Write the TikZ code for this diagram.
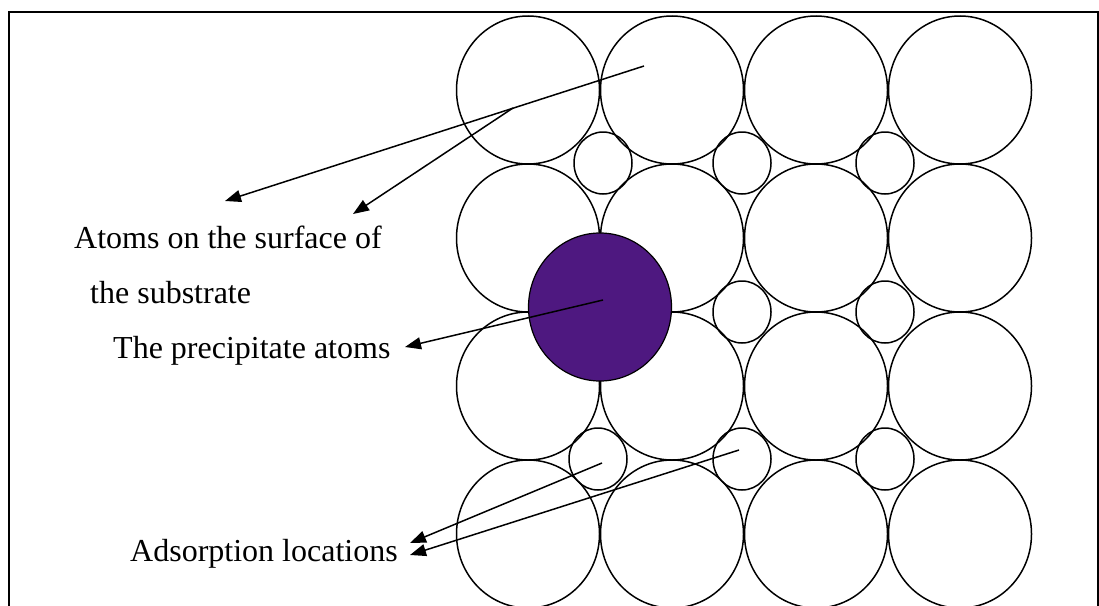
\documentclass[tikz,border=0pt]{standalone}
\usepackage{fontspec}
\setmainfont{Liberation Serif}
\usetikzlibrary{arrows.meta,shapes.geometric}
\definecolor{precip}{RGB}{78,24,128}
\begin{document}
\begin{tikzpicture}[x=1pt,y=-1pt,
  bigatom/.style={ellipse,draw,line width=1.5pt,minimum width=143pt,minimum height=148pt,inner sep=0pt},
  smallatom/.style={ellipse,draw,line width=1.5pt,minimum width=58pt,minimum height=62pt,inner sep=0pt},
  precipatom/.style={ellipse,draw,fill=precip,line width=1.2pt,minimum width=143pt,minimum height=148pt,inner sep=0pt},
  txt/.style={anchor=base west,font=\fontsize{32}{38}\selectfont,inner sep=0pt},
  pointer/.style={line width=1.5pt,-{Triangle[length=16pt,width=12pt]}},
  frameline/.style={line width=1.8pt}]
\useasboundingbox (0,0) rectangle (1099,605);
\draw[frameline] (9,606) -- (9,12) -- (1098,12) -- (1098,606);
% big atoms
\foreach \r/\y in {1/90,2/238,3/386,4/534}{
  \foreach \c/\x in {1/528,2/672,3/816,4/960}{
    \node[bigatom] (b-\r-\c) at (\x,\y) {};
  }
}
% small atoms (adsorption sites)
\node[smallatom] (s-1-1) at (603,163) {};
\node[smallatom] (s-1-2) at (742,163) {};
\node[smallatom] (s-1-3) at (885,163) {};
\node[smallatom] (s-2-2) at (742,312) {};
\node[smallatom] (s-2-3) at (885,312) {};
\node[smallatom] (s-3-1) at (598,459) {};
\node[smallatom] (s-3-2) at (742,459) {};
\node[smallatom] (s-3-3) at (885,459) {};
% precipitate atom
\node[precipatom] (p) at (600,307) {};
% labels
\node[txt] (l1) at (74,248) {Atoms on the surface of};
\node[txt] (l2) at (90,303) {the substrate};
\node[txt] (l3) at (113,358) {The precipitate atoms};
\node[txt] (l4) at (130,561) {Adsorption locations};
% connector end points
\coordinate (s1) at (644,66);
\coordinate (t1) at (225,201);
\coordinate (s2) at (513,108);
\coordinate (t2) at (353,214);
\coordinate (ps) at (603,300);
\coordinate (pt) at (405,347);
\coordinate (as1) at (602,463);
\coordinate (at1) at (410,543);
\coordinate (as2) at (739,450);
\coordinate (at2) at (410,555);
\draw[pointer] (s1) -- (t1);
\draw[pointer] (s2) -- (t2);
\draw[pointer] (ps) -- (pt);
\draw[pointer] (as1) -- (at1);
\draw[pointer] (as2) -- (at2);
\end{tikzpicture}
\end{document}
